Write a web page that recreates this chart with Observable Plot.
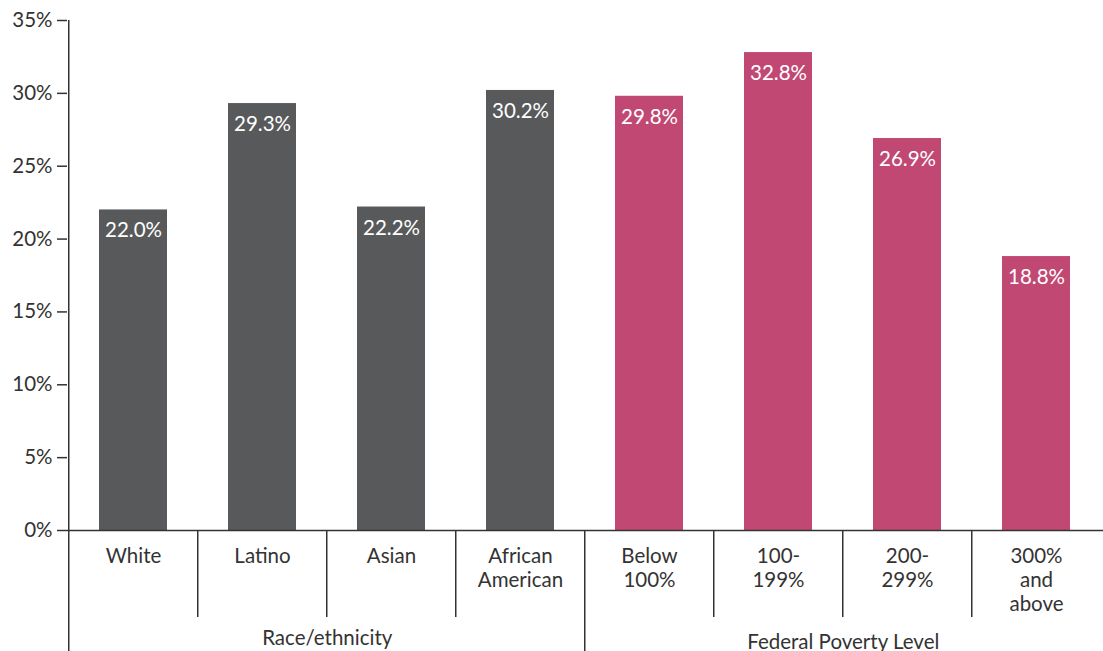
<!DOCTYPE html>
<html>
<head>
<meta charset="utf-8">
<script src="https://cdn.jsdelivr.net/npm/d3@7"></script>
<script src="https://cdn.jsdelivr.net/npm/@observablehq/plot@0.6"></script>
<style>
  html, body { margin: 0; padding: 0; background: #fff; }
  #chart { width: 1103px; height: 651px; overflow: hidden; }
</style>
</head>
<body>
<div id="chart"></div>
<script>
// Data
const categories = ["White", "Latino", "Asian", "African\nAmerican", "Below\n100%", "100-\n199%", "200-\n299%", "300%\nand\nabove"];
const values = [22.0, 29.3, 22.2, 30.2, 29.8, 32.8, 26.9, 18.8];
const groups = ["Race/ethnicity", "Race/ethnicity", "Race/ethnicity", "Race/ethnicity",
                "Federal Poverty Level", "Federal Poverty Level", "Federal Poverty Level", "Federal Poverty Level"];
const groupNames = ["Race/ethnicity", "Federal Poverty Level"];
const yTicks = [0, 5, 10, 15, 20, 25, 30, 35];

const colors = {"Race/ethnicity": "#58595b", "Federal Poverty Level": "#c04873"};

const data = categories.map((c, i) => ({category: c, value: values[i], group: groups[i]}));

const W = 1103, H = 651;
const mL = 67, mR = 0, mT = 20, mB = 121;
const step = (W - mL - mR) / categories.length;
const plotH = H - mT - mB;
const FS = 20.5;

const groupStarts = categories.filter((c, i) => i > 0 && groups[i] !== groups[i - 1]);
const innerSeps = categories.filter((c, i) => i > 0 && groups[i] === groups[i - 1]);
const groupAnchors = groupNames.map(g => {
  const idx = groups.map((gg, i) => gg === g ? i : -1).filter(i => i >= 0);
  const mid = idx[Math.floor(idx.length / 2) - 1];
  return {name: g, category: categories[mid]};
});

const chart = Plot.plot({
  width: W,
  height: H,
  marginLeft: mL,
  marginRight: mR,
  marginTop: mT,
  marginBottom: mB,
  style: {fontFamily: "Lato, 'Open Sans', sans-serif", color: "#333", background: "#fff"},
  x: {domain: categories, paddingInner: 0.47, paddingOuter: 0.235, axis: null},
  y: {domain: [0, 35], axis: null},
  marks: [
    Plot.barY(data, {x: "category", y: "value", fill: d => colors[d.group]}),
    Plot.text(data, {
      x: "category", y: "value", text: d => d.value.toFixed(1) + "%",
      fill: "white", fontSize: FS, dy: 21
    }),
    Plot.axisY({
      ticks: yTicks, tickFormat: d => d + "%", tickSize: 10, tickPadding: 5, label: null,
      fontSize: FS, stroke: "#333", strokeWidth: 1.5, fill: "#333"
    }),
    Plot.ruleY([0], {stroke: "#333", strokeWidth: 1.5}),
    Plot.ruleX([categories[0]], {dx: -step / 2, stroke: "#333", strokeWidth: 1.5, insetBottom: -mB}),
    Plot.ruleX(groupStarts, {dx: -step / 2, stroke: "#333", strokeWidth: 1.5, insetTop: plotH, insetBottom: -mB}),
    Plot.ruleX(innerSeps, {dx: -step / 2, stroke: "#333", strokeWidth: 1.5, insetTop: plotH, insetBottom: -87}),
    Plot.text(categories, {
      x: d => d, text: d => d, frameAnchor: "bottom", lineAnchor: "top",
      dy: 15, fontSize: FS, lineHeight: 24 / FS, fill: "#333"
    }),
    Plot.text(groupAnchors.slice(0, 1), {
      x: "category", text: "name", frameAnchor: "bottom", lineAnchor: "bottom",
      dx: step / 2, dy: 114, fontSize: FS, fill: "#333"
    }),
    Plot.text(groupAnchors.slice(1), {
      x: "category", text: "name", frameAnchor: "bottom", lineAnchor: "bottom",
      dx: step / 2, dy: 118, fontSize: FS, fill: "#333"
    })
  ]
});

document.getElementById("chart").appendChild(chart);
</script>
</body>
</html>
